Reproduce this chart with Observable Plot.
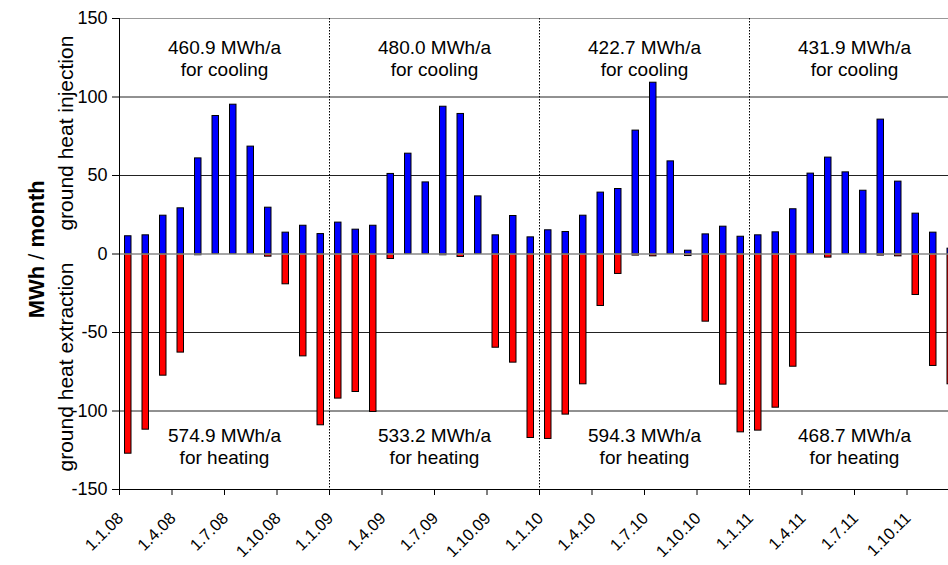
<!DOCTYPE html>
<html>
<head>
<meta charset="utf-8">
<script src="https://cdn.jsdelivr.net/npm/d3@7"></script>
<script src="https://cdn.jsdelivr.net/npm/@observablehq/plot@0.6"></script>
<style>
  html, body { margin: 0; padding: 0; background: #fff; overflow: hidden; width: 948px; height: 565px; }
  #chart svg { max-width: none !important; display: block; }
</style>
</head>
<body>
<div id="chart"></div>
<script>
// Monthly ground heat injection (cooling, +) and extraction (heating, −), MWh/month
const injection2008 = [11.3, 11.9, 24.4, 29.1, 60.9, 87.9, 95.1, 68.4, 29.5, 13.6, 18.0, 12.7];
const extraction2008 = [-127.2, -111.9, -77.5, -62.8, -0.8, 0, 0, 0, -1.7, -19.3, -65.2, -109.1];
const injection2009 = [20.0, 15.5, 18.0, 51.0, 63.9, 45.6, 93.8, 89.2, 36.7, 11.9, 24.2, 10.6];
const extraction2009 = [-92.1, -87.9, -100.6, -3.2, 0, 0, -0.8, -1.9, 0, -59.7, -69.2, -117.2];
const injection2010 = [15.1, 14.0, 24.4, 39.1, 41.4, 78.6, 109.1, 59.0, 2.1, 12.5, 17.4, 11.0];
const extraction2010 = [-117.8, -102.3, -83.0, -33.1, -12.7, -1.0, -1.5, 0, -1.3, -43.1, -83.2, -113.6];
const injection2011 = [11.9, 13.8, 28.5, 51.2, 61.4, 52.0, 40.3, 85.6, 46.1, 25.7, 13.6, 3.4];
const extraction2011 = [-112.5, -97.9, -71.8, 0, -2.3, 0, 0, -1.0, -1.5, -26.1, -71.3, -83.0];

const years = ["2008", "2009", "2010", "2011"];
const coolingTotals = ["460.9", "480.0", "422.7", "431.9"];
const heatingTotals = ["574.9", "533.2", "594.3", "468.7"];
const tickLabels = ["1.1.08", "1.4.08", "1.7.08", "1.10.08", "1.1.09", "1.4.09", "1.7.09", "1.10.09",
                    "1.1.10", "1.4.10", "1.7.10", "1.10.10", "1.1.11", "1.4.11", "1.7.11", "1.10.11"];
const yTicks = [-150, -100, -50, 0, 50, 100, 150];

const injectionAll = [injection2008, injection2009, injection2010, injection2011].flat();
const extractionAll = [extraction2008, extraction2009, extraction2010, extraction2011].flat();
const months = injectionAll.map((v, i) => ({i, inj: v, ext: extractionAll[i]}));
const tickIdx = tickLabels.map((_, k) => k * 3);
const yearInfo = years.map((y, k) => ({k, mid: k * 12 + 6, cool: coolingTotals[k], heat: heatingTotals[k]}));

const font = "Liberation Sans, Arial, Helvetica, sans-serif";

const chart = Plot.plot({
  width: 960,
  height: 565,
  marginLeft: 119,
  marginRight: 1,
  marginTop: 18,
  marginBottom: 76,
  style: {fontFamily: font, background: "white", overflow: "visible"},
  x: {domain: [0, 48], axis: null},
  y: {domain: [-150, 150], axis: null},
  marks: [
    Plot.ruleY([100, 50, -50, -100], {stroke: "#222", strokeWidth: 1}),
    Plot.ruleY([150], {stroke: "#999", strokeWidth: 1.2}),
    Plot.ruleX([12, 24, 36], {stroke: "#000", strokeWidth: 1, strokeDasharray: "1.5,1.5"}),
    Plot.rectY(months, {x1: "i", x2: d => d.i + 1, y1: 0, y2: "inj", insetLeft: 5.5, insetRight: 5.5,
      fill: "#0000ff", stroke: "#000", strokeWidth: 1}),
    Plot.rectY(months.filter(d => d.ext < 0), {x1: "i", x2: d => d.i + 1, y1: 0, y2: "ext", insetLeft: 5.5, insetRight: 5.5,
      fill: "#ff0000", stroke: "#000", strokeWidth: 1}),
    Plot.ruleY([0], {stroke: "#888", strokeWidth: 1.6}),
    Plot.ruleX([0], {stroke: "#000", strokeWidth: 1}),
    Plot.ruleY([-150], {stroke: "#000", strokeWidth: 1.2}),
    Plot.axisY({ticks: yTicks, tickFormat: d => String(d), tickSize: 7, tickPadding: 5, fontSize: 18,
      label: null, stroke: "#000", color: "#000"}),
    Plot.axisX({ticks: tickIdx, tickSize: 6, tickFormat: () => "", label: null, stroke: "#000"}),
    Plot.text(tickIdx, {x: d => d, frameAnchor: "bottom", text: d => tickLabels[d / 3], rotate: -45,
      textAnchor: "end", lineAnchor: "middle", dy: 26, dx: 1, fontSize: 16.5, fill: "#000"}),
    Plot.text(yearInfo, {x: "mid", y: () => 125, text: d => `${d.cool} MWh/a\nfor cooling`,
      lineAnchor: "middle", lineHeight: 1.16, fontSize: 19, fill: "#000"}),
    Plot.text(yearInfo, {x: "mid", y: () => -122.5, text: d => `${d.heat} MWh/a\nfor heating`,
      lineAnchor: "middle", lineHeight: 1.16, fontSize: 19, fill: "#000"}),
    Plot.text(["ground heat injection"], {frameAnchor: "left", y: () => 77, dx: -53, rotate: -90,
      textAnchor: "middle", lineAnchor: "middle", fontSize: 21, fill: "#000"}),
    Plot.text(["ground heat extraction"], {frameAnchor: "left", y: () => -72, dx: -53, rotate: -90,
      textAnchor: "middle", lineAnchor: "middle", fontSize: 21, fill: "#000"}),
    Plot.text(["MWh / month"], {frameAnchor: "left", y: () => 3, dx: -83, rotate: -90,
      textAnchor: "middle", lineAnchor: "middle", fontSize: 22, fill: "#000", className: "ytitle"})
  ]
});

// Mixed-weight y title: "MWh" and "month" bold, slash regular
d3.select(chart).selectAll(".ytitle text").each(function () {
  const t = d3.select(this);
  t.text(null);
  t.append("tspan").attr("font-weight", "bold").text("MWh");
  t.append("tspan").text(" / ");
  t.append("tspan").attr("font-weight", "bold").text("month");
});

chart.style.maxWidth = "none";
document.getElementById("chart").appendChild(chart);
</script>
</body>
</html>
